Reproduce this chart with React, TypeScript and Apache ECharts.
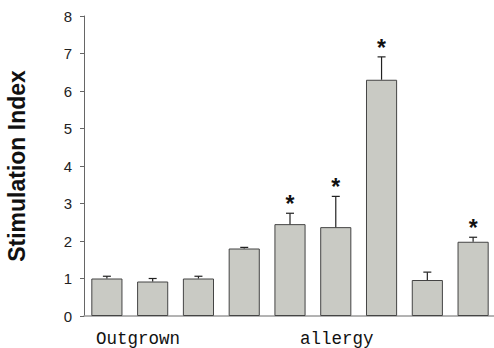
import React, { useEffect, useRef } from "react";
import * as echarts from "echarts";

const categories = ["1", "2", "3", "4", "5", "6", "7", "8", "9"];
const values = [1.0, 0.92, 1.0, 1.8, 2.45, 2.37, 6.3, 0.96, 1.98];
const errors = [0.06, 0.08, 0.06, 0.03, 0.29, 0.82, 0.61, 0.21, 0.12];
const significant = [false, false, false, false, true, true, true, false, true];
const yTicks = [0, 1, 2, 3, 4, 5, 6, 7, 8];
const groupLabels = ["Outgrown", "allergy"];

export default function App() {
  const ref = useRef<HTMLDivElement>(null);
  useEffect(() => {
    if (!ref.current) return;
    const chart = echarts.init(ref.current, null, { renderer: "svg" });
    const errData = values.map((v, i) => [i, v, v + errors[i], significant[i] ? 1 : 0]);
    chart.setOption({
      animation: false,
      backgroundColor: "#ffffff",
      grid: { left: 84, right: -2, top: 16, bottom: 32, containLabel: false, outerBoundsMode: "none" },
      xAxis: {
        type: "category",
        data: categories,
        axisLine: { lineStyle: { color: "#9a9a9a", width: 1.5 } },
        axisTick: { show: false },
        axisLabel: { show: false },
      },
      yAxis: {
        type: "value",
        min: yTicks[0],
        max: yTicks[yTicks.length - 1],
        interval: 1,
        name: "Stimulation Index",
        nameLocation: "middle",
        nameGap: 56,
        nameTextStyle: {
          fontFamily: "Liberation Sans",
          fontWeight: "bold",
          fontSize: 23,
          color: "#111",
        },
        axisLine: { show: true, lineStyle: { color: "#666", width: 1 } },
        axisTick: { show: true, inside: false, length: 4, lineStyle: { color: "#666" } },
        axisLabel: {
          fontFamily: "Liberation Sans",
          fontSize: 15,
          color: "#222",
          margin: 12,
        },
        splitLine: { show: false },
      },
      series: [
        {
          type: "bar",
          data: values,
          barWidth: "68%",
          itemStyle: { color: "#c9cac4", borderColor: "#444", borderWidth: 1 },
        },
        {
          type: "custom",
          data: errData,
          z: 5,
          renderItem: (params: any, api: any) => {
            const i = api.value(0);
            const base = api.coord([i, api.value(1)]);
            const top = api.coord([i, api.value(2)]);
            const cap = 4;
            const children: any[] = [
              {
                type: "line",
                shape: { x1: base[0], y1: base[1], x2: top[0], y2: top[1] },
                style: { stroke: "#222", lineWidth: 1.2 },
              },
              {
                type: "line",
                shape: { x1: top[0] - cap, y1: top[1], x2: top[0] + cap, y2: top[1] },
                style: { stroke: "#222", lineWidth: 1.2 },
              },
            ];
            if (api.value(3) === 1) {
              children.push({
                type: "text",
                style: {
                  text: "*",
                  x: top[0],
                  y: top[1] - 9,
                  align: "center",
                  verticalAlign: "middle",
                  fontFamily: "Liberation Sans",
                  fontWeight: "bold",
                  fontSize: 23,
                  fill: "#111",
                },
              });
            }
            return { type: "group", children };
          },
        },
      ],
      graphic: [
        {
          type: "text",
          left: 96,
          top: 330,
          style: {
            text: groupLabels[0],
            fontFamily: "Liberation Mono",
            fontSize: 17.5,
            fill: "#111",
          },
        },
        {
          type: "text",
          left: 300,
          top: 330,
          style: {
            text: groupLabels[1],
            fontFamily: "Liberation Mono",
            fontSize: 17.5,
            fill: "#111",
          },
        },
      ],
    });
    return () => chart.dispose();
  }, []);
  return (
    <div
      ref={ref}
      style={{ position: "absolute", left: 0, top: 0, width: 494, height: 348 }}
    />
  );
}
